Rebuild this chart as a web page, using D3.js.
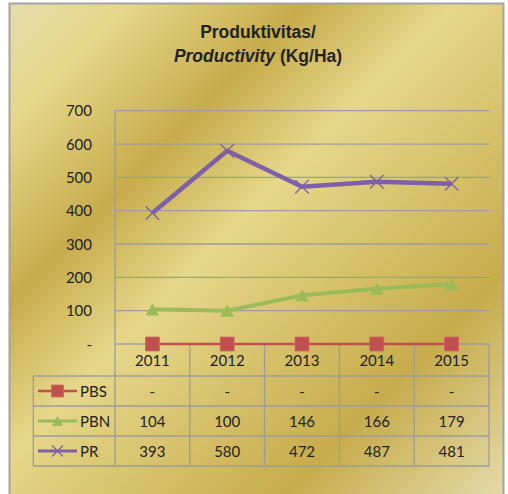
<!DOCTYPE html>
<html>
<head>
<meta charset="utf-8">
<script src="https://cdn.jsdelivr.net/npm/d3@7"></script>
<style>
  body { margin: 0; background: #fff; }
  svg { display: block; }
</style>
</head>
<body>
<svg id="chart" width="508" height="494"></svg>
<script>
// data
var years = ["2011", "2012", "2013", "2014", "2015"];
var pbs = [0, 0, 0, 0, 0];
var pbn = [104, 100, 146, 166, 179];
var pr  = [393, 580, 472, 487, 481];
var yTicks = [0, 100, 200, 300, 400, 500, 600, 700];

var series = [
  { name: "PBS", values: pbs, color: "#C0504D", width: 2.5, marker: "square" },
  { name: "PBN", values: pbn, color: "#9BBB59", width: 4, marker: "triangle" },
  { name: "PR",  values: pr,  color: "#7F60A8", width: 4.5, marker: "cross" }
];

var svg = d3.select("#chart");
var font = "Lato, 'Open Sans', sans-serif";
var grid = "#9c9c9c";

// gold gradient background
var defs = svg.append("defs");
var grad = defs.append("linearGradient")
  .attr("id", "gold")
  .attr("x1", 0).attr("y1", 0).attr("x2", 1).attr("y2", 1);
[[0, "#E6DCAC"], [0.12, "#E6D78A"], [0.30, "#C7AC4C"], [0.45, "#E6D78A"], [0.77, "#C7AC4C"], [1, "#E6DCAC"]]
  .forEach(function (s) {
    grad.append("stop").attr("offset", s[0]).attr("stop-color", s[1]);
  });

svg.append("rect")
  .attr("x", 9.5).attr("y", 3.5)
  .attr("width", 494).attr("height", 500)
  .attr("fill", "url(#gold)")
  .attr("stroke", "#a3a3a3")
  .attr("stroke-width", 2);

// title
var title = svg.append("text")
  .attr("text-anchor", "middle")
  .style("font-family", "'Liberation Sans', Arial, sans-serif")
  .style("font-weight", "bold")
  .style("font-size", "17.5px")
  .attr("fill", "#222");
title.append("tspan").attr("x", 258).attr("y", 38).text("Produktivitas/");
var t2 = title.append("tspan").attr("x", 258).attr("y", 62);
t2.append("tspan").style("font-style", "italic").text("Productivity");
t2.append("tspan").text(" (Kg/Ha)");

// scales
var x = d3.scaleBand().domain(years).range([115, 489]).padding(0);
var y = d3.scaleLinear().domain([0, 700]).range([344, 110.7]);

// gridlines
svg.append("g").selectAll("line")
  .data(yTicks)
  .join("line")
  .attr("x1", 115).attr("x2", 489)
  .attr("y1", function (d) { return y(d); })
  .attr("y2", function (d) { return y(d); })
  .attr("stroke", grid)
  .attr("stroke-width", 1.3);

// y axis labels
svg.append("g").selectAll("text")
  .data(yTicks)
  .join("text")
  .attr("x", 92)
  .attr("y", function (d) { return y(d) + 5.5; })
  .attr("text-anchor", "end")
  .style("font-family", font)
  .style("font-size", "15px")
  .attr("fill", "#222")
  .text(function (d) { return d === 0 ? "- " : d; });

// data table
var rowTop = 344, catH = 32, rowH = 30;
var legendLeft = 33.3;
var tableBottom = rowTop + catH + rowH * series.length;
var tg = svg.append("g");

// plot left axis line down through table
tg.append("line")
  .attr("x1", 115).attr("x2", 115)
  .attr("y1", y(700)).attr("y2", tableBottom)
  .attr("stroke", grid).attr("stroke-width", 1.3);

// column boundaries
years.forEach(function (yr, i) {
  var xr = x(yr) + x.bandwidth();
  tg.append("line")
    .attr("x1", xr).attr("x2", xr)
    .attr("y1", rowTop).attr("y2", tableBottom)
    .attr("stroke", grid).attr("stroke-width", 1.3);
});

// horizontal table lines
var hLines = [rowTop + catH];
series.forEach(function (s, i) { hLines.push(rowTop + catH + rowH * (i + 1)); });
hLines.forEach(function (hy) {
  tg.append("line")
    .attr("x1", legendLeft).attr("x2", 489)
    .attr("y1", hy).attr("y2", hy)
    .attr("stroke", grid).attr("stroke-width", 1.3);
});
tg.append("line")
  .attr("x1", legendLeft).attr("x2", legendLeft)
  .attr("y1", rowTop + catH).attr("y2", tableBottom)
  .attr("stroke", grid).attr("stroke-width", 1.3);

// category labels
tg.selectAll("text.cat")
  .data(years)
  .join("text")
  .attr("class", "cat")
  .attr("x", function (d) { return x(d) + x.bandwidth() / 2; })
  .attr("y", rowTop + catH / 2 + 5.5)
  .attr("text-anchor", "middle")
  .style("font-family", font)
  .style("font-size", "15px")
  .attr("fill", "#222")
  .text(function (d) { return d; });

function drawMarker(g, type, cx, cy, color, size) {
  if (type === "square") {
    g.append("rect")
      .attr("x", cx - size / 2).attr("y", cy - size / 2)
      .attr("width", size).attr("height", size)
      .attr("fill", color)
      .attr("stroke", "#D06A66").attr("stroke-width", 0.8);
  } else if (type === "triangle") {
    var h = size * 0.9;
    g.append("path")
      .attr("d", "M" + cx + "," + (cy - h / 2) + "L" + (cx + size / 2) + "," + (cy + h / 2) + "L" + (cx - size / 2) + "," + (cy + h / 2) + "Z")
      .attr("fill", color);
  } else {
    var r = size / 2;
    g.append("path")
      .attr("d", "M" + (cx - r) + "," + (cy - r) + "L" + (cx + r) + "," + (cy + r) + "M" + (cx - r) + "," + (cy + r) + "L" + (cx + r) + "," + (cy - r))
      .attr("stroke", color).attr("stroke-width", 1.3).attr("fill", "none");
  }
}

// rows: legend key + values
series.forEach(function (s, i) {
  var cy = rowTop + catH + rowH * i + rowH / 2;
  var lg = tg.append("g");
  lg.append("line")
    .attr("x1", 38).attr("x2", 77)
    .attr("y1", cy).attr("y2", cy)
    .attr("stroke", s.color).attr("stroke-width", s.name === "PBS" ? 2.5 : 3);
  drawMarker(lg, s.marker, 57.5, cy, s.color, s.marker === "square" ? 12 : 11);
  lg.append("text")
    .attr("x", 80).attr("y", cy + 5.5)
    .style("font-family", font).style("font-size", "15px")
    .attr("fill", "#222")
    .text(s.name);
  tg.append("g").selectAll("text")
    .data(s.values)
    .join("text")
    .attr("x", function (d, j) { return x(years[j]) + x.bandwidth() / 2; })
    .attr("y", cy + 5.5)
    .attr("text-anchor", "middle")
    .style("font-family", font).style("font-size", "15px")
    .attr("fill", "#222")
    .text(function (d) { return d === 0 ? "-" : d; });
});

// series lines and markers
var line = d3.line()
  .x(function (d, j) { return x(years[j]) + x.bandwidth() / 2; })
  .y(function (d) { return y(d); });

series.forEach(function (s) {
  var g = svg.append("g");
  g.append("path")
    .datum(s.values)
    .attr("d", line)
    .attr("fill", "none")
    .attr("stroke", s.color)
    .attr("stroke-width", s.width)
    .attr("stroke-linejoin", "round");
  s.values.forEach(function (v, j) {
    drawMarker(g, s.marker, x(years[j]) + x.bandwidth() / 2, y(v), s.color,
      s.marker === "square" ? 14 : 13.5);
  });
});
</script>
</body>
</html>
